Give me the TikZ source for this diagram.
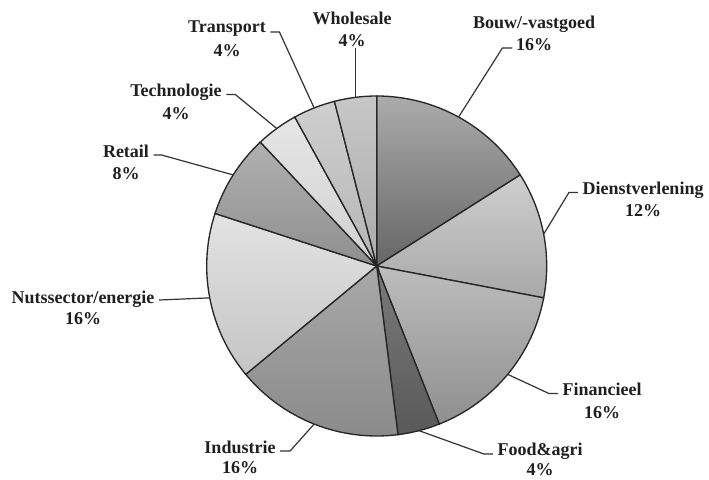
\documentclass[tikz,border=0pt]{standalone}
\usepackage{fontspec}
\setmainfont{Liberation Serif}
\tikzset{
  slice/.style={draw=black!85, line width=1pt},
  lbl/.style={font=\fontsize{13.5}{16}\selectfont\bfseries, text=black!88, inner sep=1pt, anchor=base},
  leader/.style={draw=black!80, line width=0.9pt}
}
\begin{document}
\begin{tikzpicture}[x=0.75pt,y=0.75pt]
\useasboundingbox (0,0) rectangle (709,479);
\coordinate (O) at (376.7,213);

% slices, clockwise from the top
\draw[slice, top color=black!33, bottom color=black!60] (O) -- ++(90:170) arc[start angle=90, end angle=32.4, radius=127.5pt] -- cycle;
\draw[slice, top color=black!19, bottom color=black!34] (O) -- ++(32.4:170) arc[start angle=32.4, end angle=-10.8, radius=127.5pt] -- cycle;
\draw[slice, top color=black!26, bottom color=black!44] (O) -- ++(-10.8:170) arc[start angle=-10.8, end angle=-68.4, radius=127.5pt] -- cycle;
\draw[slice, top color=black!52, bottom color=black!65] (O) -- ++(-68.4:170) arc[start angle=-68.4, end angle=-82.8, radius=127.5pt] -- cycle;
\draw[slice, top color=black!34, bottom color=black!46] (O) -- ++(-82.8:170) arc[start angle=-82.8, end angle=-140.4, radius=127.5pt] -- cycle;
\draw[slice, top color=black!11, bottom color=black!23] (O) -- ++(219.6:170) arc[start angle=219.6, end angle=162, radius=127.5pt] -- cycle;
\draw[slice, top color=black!31, bottom color=black!44] (O) -- ++(162:170) arc[start angle=162, end angle=133.2, radius=127.5pt] -- cycle;
\draw[slice, top color=black!10, bottom color=black!18] (O) -- ++(133.2:170) arc[start angle=133.2, end angle=118.8, radius=127.5pt] -- cycle;
\draw[slice, top color=black!19, bottom color=black!29] (O) -- ++(118.8:170) arc[start angle=118.8, end angle=104.4, radius=127.5pt] -- cycle;
\draw[slice, top color=black!22, bottom color=black!33] (O) -- ++(104.4:170) arc[start angle=104.4, end angle=90, radius=127.5pt] -- cycle;

% rim points for the leaders
\coordinate (r-bouw) at ([shift={(61.2:170)}]O);
\coordinate (r-dienst) at ([shift={(10.8:170)}]O);
\coordinate (r-fin) at ([shift={(-39.6:170)}]O);
\coordinate (r-food) at ([shift={(-75.6:170)}]O);
\coordinate (r-ind) at ([shift={(-111.6:170)}]O);
\coordinate (r-nuts) at ([shift={(190.8:170)}]O);
\coordinate (r-retail) at ([shift={(147.6:170)}]O);
\coordinate (r-tech) at ([shift={(126:170)}]O);
\coordinate (r-trans) at ([shift={(111.6:170)}]O);
\coordinate (r-whole) at ([shift={(97.2:170)}]O);

% labels
\node[lbl] (bouw) at (534,450.5) {Bouw/-vastgoed};
\node[lbl] (bouw-p) at (534,428.5) {16\%};
\node[lbl] (whole) at (352,454.5) {Wholesale};
\node[lbl] (whole-p) at (352,432.5) {4\%};
\node[lbl] (trans) at (227,446) {Transport};
\node[lbl] (trans-p) at (227,422) {4\%};
\node[lbl] (tech) at (176,382.5) {Technologie};
\node[lbl] (tech-p) at (176,359.5) {4\%};
\node[lbl] (retail) at (126,321) {Retail};
\node[lbl] (retail-p) at (126,299.5) {8\%};
\node[lbl] (dienst) at (643,284.5) {Dienstverlening};
\node[lbl] (dienst-p) at (643,262.5) {12\%};
\node[lbl] (nuts) at (83,176) {Nutssector/energie};
\node[lbl] (nuts-p) at (83,154.5) {16\%};
\node[lbl] (fin) at (602,83.5) {Financieel};
\node[lbl] (fin-p) at (602,61) {16\%};
\node[lbl] (food) at (540,24) {Food\&agri};
\node[lbl] (food-p) at (540,3.5) {4\%};
\node[lbl] (ind) at (240,26) {Industrie};
\node[lbl] (ind-p) at (240,6) {16\%};

% leader lines
\draw[leader] (r-bouw) -- ([shift={(-12,2.5)}]bouw-p.base west) -- ([shift={(-2,2.5)}]bouw-p.base west);
\draw[leader] (r-whole) -- (r-whole |- whole-p.south);
\draw[leader] (r-trans) -- ([shift={(12,1)}]trans.base east) -- ([shift={(3,1)}]trans.base east);
\draw[leader] (r-tech) -- ([shift={(12,2)}]tech.base east) -- ([shift={(3,2)}]tech.base east);
\draw[leader] (r-retail) -- ([shift={(11,3)}]retail.base east) -- ([shift={(3,3)}]retail.base east);
\draw[leader] (r-nuts) -- ([shift={(3,3)}]nuts.base east);
\draw[leader] (r-ind) -- ([shift={(13,2)}]ind.base east) -- ([shift={(3,2)}]ind.base east);
\draw[leader] (r-food) -- ([shift={(-12,1)}]food.base west) -- ([shift={(-3,1)}]food.base west);
\draw[leader] (r-fin) -- ([shift={(-12,2)}]fin.base west) -- ([shift={(-3,2)}]fin.base west);
\draw[leader] (r-dienst) -- ([shift={(-12,2)}]dienst.base west) -- ([shift={(-3,2)}]dienst.base west);
\end{tikzpicture}
\end{document}
